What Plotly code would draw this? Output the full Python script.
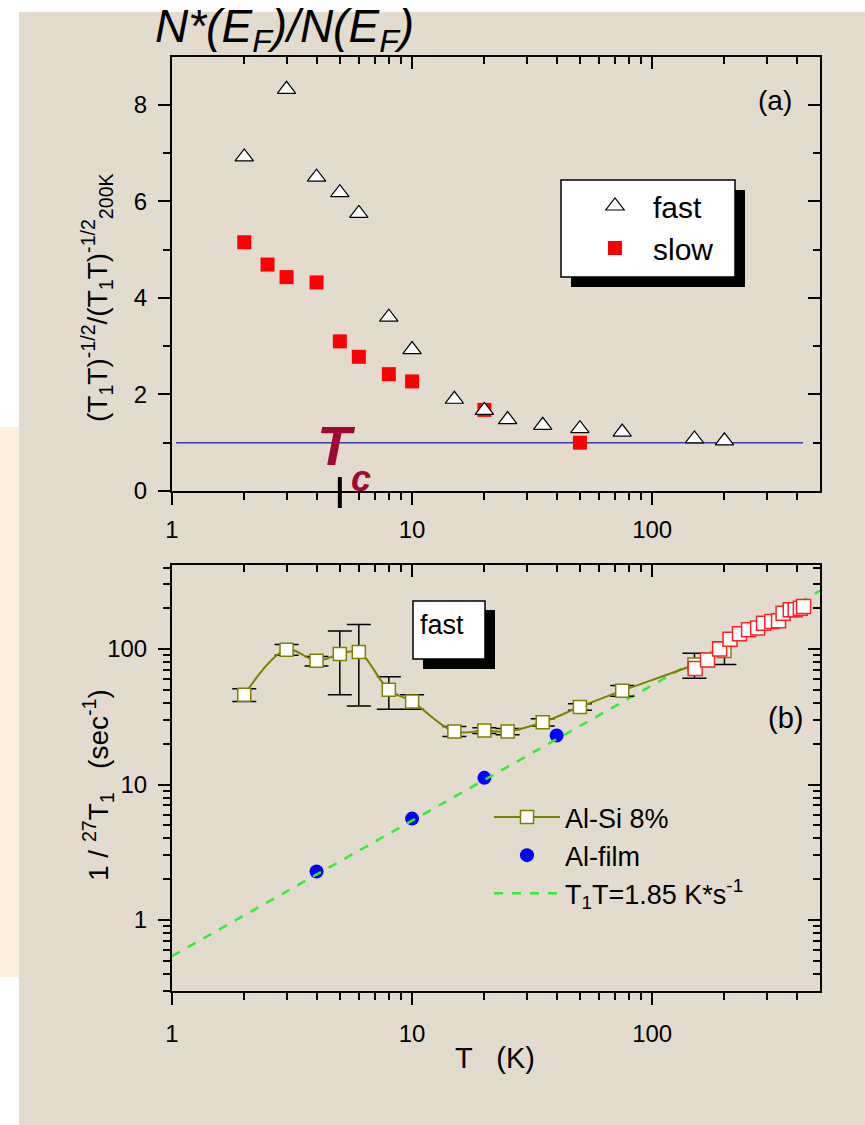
import math
import plotly.graph_objects as go

W, H = 865, 1125
FONT = "Arial, Liberation Sans, sans-serif"
BEIGE = "#e3dbce"

# ---------------- panel (a): (T1T)^-1/2 normalised to 200 K ----------------
T_fast = [2, 3, 4, 5, 6, 8, 10, 15, 20, 25, 35, 50, 75, 150, 200]
R_fast = [6.92, 8.32, 6.5, 6.18, 5.75, 3.6, 2.93, 1.9, 1.67, 1.48, 1.36, 1.29, 1.22, 1.08, 1.04]
T_slow = [2, 2.5, 3, 4, 5, 6, 8, 10, 20, 50]
R_slow = [5.15, 4.69, 4.43, 4.32, 3.1, 2.78, 2.42, 2.27, 1.68, 1.0]
T_norm = [1.04, 425]
R_norm = [1, 1]
T_C = 5

# ---------------- panel (b): 1/27T1 ----------------
T_alsi = [2, 3, 4, 5, 6, 8, 10, 15, 20, 25, 35, 50, 75, 150, 200]
W_alsi = [46, 99, 82, 92, 95, 50, 41, 24.6, 25, 24.6, 28.8, 37.4, 49.3, 77, 97]
E_up = [5, 9, 6, 44, 57, 12.5, 5, 2.2, 1.2, 1.3, 1.8, 2, 4.5, 16, 16]
E_dn = [5, 9, 7, 46, 57, 14, 5, 2, 1.2, 1.3, 1.8, 2, 4.5, 16, 20]

T_high = [151, 170, 191, 211, 231, 252, 275, 291, 315, 336, 351, 376, 394, 414, 427]
W_high = [72, 83, 100, 118, 130, 139, 143, 155, 160, 162, 184, 195, 195, 200, 206]

T_film = [4, 10, 20, 40]
W_film = [2.28, 5.6, 11.2, 23]

T1T_CONST = 1.85
T_fit = [1, 500]
W_fit = [t / T1T_CONST for t in T_fit]

X_MAJOR = [1, 10, 100]
X_MINOR = [2, 3, 4, 5, 6, 7, 8, 9, 20, 30, 40, 50, 60, 70, 80, 90, 200, 300, 400]
YA_MAJOR = [0, 2, 4, 6, 8]
YA_MINOR = [1, 3, 5, 7]
YB_MAJOR = [1, 10, 100]
YB_MINOR = [0.3, 0.4, 0.5, 0.6, 0.7, 0.8, 0.9, 2, 3, 4, 5, 6, 7, 8, 9,
            20, 30, 40, 50, 60, 70, 80, 90, 200, 300, 400]


def px(x):
    return x / W


def py(y):
    return 1 - y / H


X_DOM = [px(172), px(820)]
YA_DOM = [py(491), py(56.5)]
YB_DOM = [py(990.7), py(564.7)]
X_RANGE = [0, math.log10(500)]
YB_RANGE = [math.log10(0.3), math.log10(420)]


def axis(major, minor, ticks, labels=True, **kw):
    d = dict(showline=True, linecolor="black", linewidth=2, showgrid=False,
             zeroline=False, automargin=False, ticks=ticks, ticklen=12,
             tickwidth=2, tickcolor="black", tickvals=major,
             ticktext=[str(v) for v in major],
             showticklabels=labels,
             tickfont=dict(size=24, color="black", family=FONT),
             minor=dict(tickvals=minor, ticks=ticks, ticklen=7, tickwidth=2,
                        tickcolor="black", showgrid=False))
    d.update(kw)
    return d


fig = go.Figure()

# panel (a)
fig.add_trace(go.Scatter(x=T_norm, y=R_norm, mode="lines",
                         line=dict(color="#3a3aa8", width=1.6),
                         showlegend=False, hoverinfo="skip", xaxis="x", yaxis="y"))
fig.add_trace(go.Scatter(x=T_slow, y=R_slow, mode="markers", name="slow",
                         marker=dict(symbol="square", size=14, color="#ff0000",
                                     line=dict(width=0)),
                         xaxis="x", yaxis="y", legend="legend", legendrank=2))
fig.add_trace(go.Scatter(x=T_fast, y=R_fast, mode="markers", name="fast",
                         marker=dict(symbol="triangle-up", size=16, color="white",
                                     line=dict(color="black", width=1.2)),
                         xaxis="x", yaxis="y", legend="legend", legendrank=1))

# panel (b)
fig.add_trace(go.Scatter(x=T_film, y=W_film, mode="markers", name="Al-film",
                         marker=dict(symbol="circle", size=14, color="#0000ff",
                                     line=dict(width=0)),
                         xaxis="x2", yaxis="y2", legend="legend2", legendrank=2))
fig.add_trace(go.Scatter(x=T_fit, y=W_fit, mode="lines",
                         name="T<sub>1</sub>T=1.85 K*s<sup>-1</sup>",
                         line=dict(color="#33ee33", width=2.5, dash="dash"),
                         xaxis="x2", yaxis="y2", legend="legend2", legendrank=3))
fig.add_trace(go.Scatter(x=T_alsi, y=W_alsi, mode="lines+markers", name="Al-Si 8%",
                         line=dict(color="#808000", width=2, shape="spline", smoothing=1),
                         marker=dict(symbol="square", size=13, color="white",
                                     line=dict(color="#808000", width=1.5)),
                         error_y=dict(type="data", array=E_up, arrayminus=E_dn,
                                      color="black", thickness=1.5, width=12),
                         xaxis="x2", yaxis="y2", legend="legend2", legendrank=1))
fig.add_trace(go.Scatter(x=T_high, y=W_high, mode="markers",
                         marker=dict(symbol="square", size=14, color="white",
                                     line=dict(color="#ff2222", width=1.5)),
                         showlegend=False, xaxis="x2", yaxis="y2"))

# empty traces so the mirrored frame axes get their own subplots
for xa, ya in (("x3", "y3"), ("x4", "y4")):
    fig.add_trace(go.Scatter(x=[], y=[], mode="markers", showlegend=False,
                             hoverinfo="skip", xaxis=xa, yaxis=ya))

shapes = [
    # white page border on top and left, cream strip on the left
    dict(type="rect", xref="paper", yref="paper", x0=0, x1=1, y0=py(12), y1=1,
         fillcolor="white", line=dict(width=0), layer="below"),
    dict(type="rect", xref="paper", yref="paper", x0=0, x1=px(19), y0=0, y1=1,
         fillcolor="white", line=dict(width=0), layer="below"),
    dict(type="rect", xref="paper", yref="paper", x0=0, x1=px(19), y0=py(977), y1=py(427),
         fillcolor="#fcf1de", line=dict(width=0), layer="below"),
    # legend frame (a) with drop shadow
    dict(type="rect", xref="paper", yref="paper", x0=px(571), x1=px(745), y0=py(287), y1=py(190),
         fillcolor="black", line=dict(width=0), layer="above"),
    dict(type="rect", xref="paper", yref="paper", x0=px(561), x1=px(735), y0=py(277), y1=py(180),
         fillcolor="white", line=dict(color="black", width=1.5), layer="above"),
    # "fast" label frame (b) with drop shadow
    dict(type="rect", xref="paper", yref="paper", x0=px(423), x1=px(495), y0=py(669), y1=py(610),
         fillcolor="black", line=dict(width=0), layer="above"),
    dict(type="rect", xref="paper", yref="paper", x0=px(413), x1=px(485), y0=py(659), y1=py(601),
         fillcolor="white", line=dict(color="black", width=1.5), layer="above"),
    # Tc marker on the temperature axis
    dict(type="line", xref="x", yref="paper", x0=T_C, x1=T_C, y0=py(508), y1=py(477),
         line=dict(color="black", width=4), layer="above"),
]

TC_COLOR = "#a00a32"
annotations = [
    dict(text="<i>N*(E<sub>F</sub>)/N(E<sub>F</sub>)</i>", xref="paper", yref="paper",
         x=px(153), y=py(30), xanchor="left", yanchor="middle", showarrow=False,
         font=dict(size=46, color="black", family=FONT)),
    dict(text="(T<sub>1</sub>T)<sup>-1/2</sup>/(T<sub>1</sub>T)<sup>-1/2</sup><sub>200K</sub>",
         xref="paper", yref="paper", x=px(97), y=py(298), textangle=-90,
         xanchor="center", yanchor="middle", showarrow=False,
         font=dict(size=28, color="black", family=FONT)),
    dict(text="1 / <sup>27</sup>T<sub>1</sub>   (sec<sup>-1</sup>)",
         xref="paper", yref="paper", x=px(98), y=py(785), textangle=-90,
         xanchor="center", yanchor="middle", showarrow=False,
         font=dict(size=28, color="black", family=FONT)),
    dict(text="T   (K)", xref="paper", yref="paper", x=px(495), y=py(1058),
         xanchor="center", yanchor="middle", showarrow=False,
         font=dict(size=29, color="black", family=FONT)),
    dict(text="(a)", xref="paper", yref="paper", x=px(775), y=py(100),
         xanchor="center", yanchor="middle", showarrow=False,
         font=dict(size=28, color="black", family=FONT)),
    dict(text="(b)", xref="paper", yref="paper", x=px(785), y=py(718),
         xanchor="center", yanchor="middle", showarrow=False,
         font=dict(size=29, color="black", family=FONT)),
    dict(text="fast", xref="paper", yref="paper", x=px(418), y=py(625),
         xanchor="left", yanchor="middle", showarrow=False,
         font=dict(size=27, color="black", family=FONT)),
    dict(text="<b><i>T</i></b>", xref="paper", yref="paper",
         x=px(315), y=py(446), xanchor="left", yanchor="middle", showarrow=False,
         font=dict(size=56, color=TC_COLOR, family=FONT)),
    dict(text="<b><i>c</i></b>", xref="paper", yref="paper",
         x=px(349), y=py(456), xanchor="left", yanchor="top", showarrow=False,
         font=dict(size=36, color=TC_COLOR, family=FONT)),
]

fig.update_layout(
    width=W, height=H, autosize=False,
    margin=dict(l=0, r=0, t=0, b=0, pad=0, autoexpand=False),
    paper_bgcolor=BEIGE, plot_bgcolor="rgba(0,0,0,0)",
    font=dict(family=FONT, color="black"),
    xaxis=axis(X_MAJOR, X_MINOR, "outside", type="log", range=X_RANGE,
               domain=X_DOM, anchor="y", ticklabelstandoff=4),
    yaxis=axis(YA_MAJOR, YA_MINOR, "outside", range=[0, 9], domain=YA_DOM,
               anchor="x", ticklabelstandoff=6),
    xaxis3=axis(X_MAJOR, X_MINOR, "inside", labels=False, type="log", range=X_RANGE,
                overlaying="x", side="top", anchor="y"),
    yaxis3=axis(YA_MAJOR, YA_MINOR, "inside", labels=False, range=[0, 9],
                overlaying="y", side="right", anchor="x"),
    xaxis2=axis(X_MAJOR, X_MINOR, "outside", type="log", range=X_RANGE,
                domain=X_DOM, anchor="y2", ticklabelstandoff=8),
    yaxis2=axis(YB_MAJOR, YB_MINOR, "outside", type="log", range=YB_RANGE,
                domain=YB_DOM, anchor="x2", ticklabelstandoff=6),
    xaxis4=axis(X_MAJOR, X_MINOR, "inside", labels=False, type="log", range=X_RANGE,
                overlaying="x2", side="top", anchor="y2"),
    yaxis4=axis(YB_MAJOR, YB_MINOR, "inside", labels=False, type="log", range=YB_RANGE,
                overlaying="y2", side="right", anchor="x2"),
    legend=dict(x=px(577), y=py(180), xanchor="left", yanchor="top",
                bgcolor="rgba(0,0,0,0)", borderwidth=0, itemwidth=66,
                font=dict(size=30, color="black", family=FONT), tracegroupgap=0),
    legend2=dict(x=px(489), y=py(793), xanchor="left", yanchor="top",
                 bgcolor="rgba(0,0,0,0)", borderwidth=0, itemwidth=66,
                 font=dict(size=27, color="black", family=FONT), tracegroupgap=0),
    shapes=shapes,
    annotations=annotations,
    showlegend=True,
)

fig.write_html("out.html",
               post_script="document.body.style.margin='0';"
                           "document.body.style.overflow='hidden';")
